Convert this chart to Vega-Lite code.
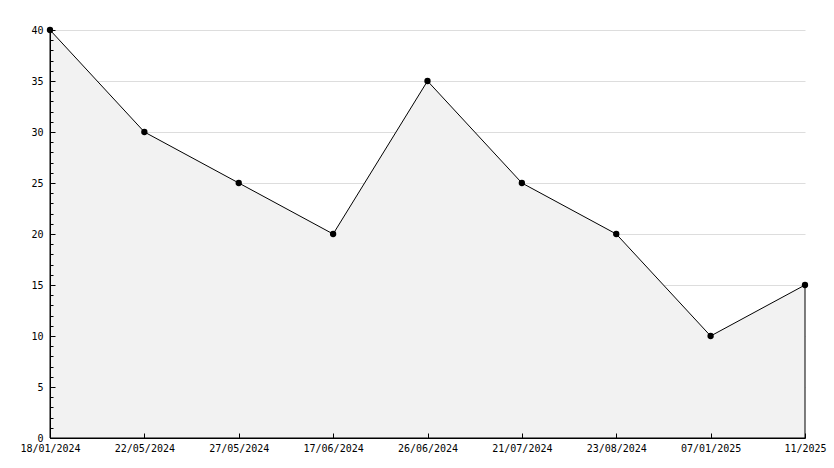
{
  "$schema": "https://vega.github.io/schema/vega-lite/v6.json",
  "width": 755,
  "height": 408,
  "autosize": {"type": "none"},
  "padding": {"left": 50, "top": 30, "right": 29, "bottom": 30},
  "background": "white",
  "config": {
    "view": {"stroke": null},
    "axis": {"labelFont": "DejaVu Sans Mono", "labelFontSize": 10, "labelColor": "black", "domainColor": "black", "tickColor": "black", "titleFont": "DejaVu Sans Mono"}
  },
  "data": {
    "values": [
      {"date": "18/01/2024", "value": 40},
      {"date": "22/05/2024", "value": 30},
      {"date": "27/05/2024", "value": 25},
      {"date": "17/06/2024", "value": 20},
      {"date": "26/06/2024", "value": 35},
      {"date": "21/07/2024", "value": 25},
      {"date": "23/08/2024", "value": 20},
      {"date": "07/01/2025", "value": 10},
      {"date": "11/2025", "value": 15}
    ]
  },
  "encoding": {
    "x": {
      "field": "date", "type": "ordinal", "sort": null,
      "scale": {"type": "point", "padding": 0},
      "axis": {"title": null, "labelAngle": 0, "tickSize": -5, "labelPadding": 10, "grid": false, "domainColor": "black", "zindex": 1}
    }
  },
  "layer": [
    {
      "mark": {"type": "area", "fill": "#f2f2f2", "stroke": "black", "strokeWidth": 1},
      "encoding": {
        "y": {
          "field": "value", "type": "quantitative",
          "scale": {"domain": [0, 40], "nice": false},
          "axis": {
            "orient": "right", "title": null, "values": [5,10,15,20,25,30,35,40],
            "labels": false, "ticks": false, "domain": false,
            "grid": true, "gridColor": "#dddddd", "zindex": 0
          }
        }
      }
    },
    {
      "mark": {"type": "point", "shape": "circle", "filled": true, "color": "black", "size": 40, "opacity": 1},
      "encoding": {
        "y": {
          "field": "value", "type": "quantitative",
          "scale": {"domain": [0, 40], "nice": false},
          "axis": {
            "orient": "left", "title": null,
            "values": [0,1,2,3,4,5,6,7,8,9,10,11,12,13,14,15,16,17,18,19,20,21,22,23,24,25,26,27,28,29,30,31,32,33,34,35,36,37,38,39,40],
            "labelExpr": "datum.value % 5 === 0 ? datum.label : ''",
            "tickSize": {"condition": {"test": "datum.value % 5 === 0", "value": -5}, "value": -3},
            "labelPadding": 12,
            "grid": false,
            "zindex": 1
          }
        }
      }
    }
  ],
  "resolve": {"axis": {"y": "independent"}}
}
